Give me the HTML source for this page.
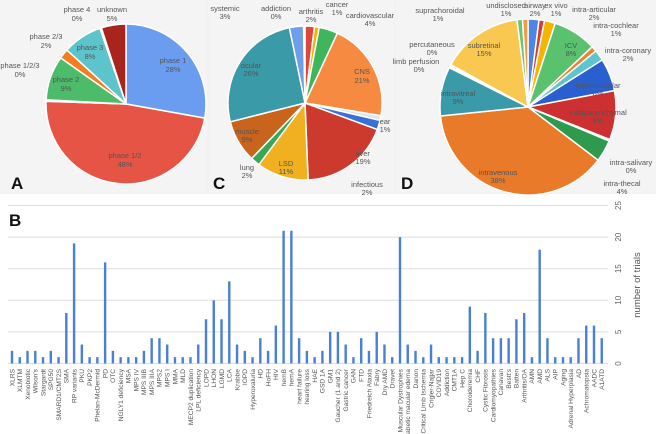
<!DOCTYPE html>
<html><head><meta charset="utf-8"><style>
html,body{margin:0;padding:0;background:#fff;}
body{width:656px;height:434px;overflow:hidden;position:relative;font-family:"Liberation Sans",sans-serif;}
svg{position:absolute;left:0;top:0;}
</style></head><body>
<svg id="s" width="656" height="434" xmlns="http://www.w3.org/2000/svg" font-family="Liberation Sans, sans-serif">
<rect x="0" y="0" width="656" height="194" fill="#f2f2f2"/>
<rect x="0" y="0" width="207" height="194" fill="#f4f4f4"/>
<rect x="209" y="0" width="185" height="194" fill="#f4f4f4"/>
<rect x="396" y="0" width="260" height="194" fill="#f4f4f4"/>
<g id="pies"></g>
<g id="bars"></g>
<g font-size="7.5" fill="#555" text-anchor="middle">
<text x="173" y="63">phase 1</text><text x="173" y="72">28%</text>
<text x="125" y="158">phase 1/2</text><text x="125" y="167">48%</text>
<text x="66" y="82">phase 2</text><text x="66" y="91">9%</text>
<text x="90" y="50">phase 3</text><text x="90" y="59">8%</text>
<text x="46" y="39">phase 2/3</text><text x="46" y="48">2%</text>
<text x="20" y="68">phase 1/2/3</text><text x="20" y="77">0%</text>
<text x="77" y="12">phase 4</text><text x="77" y="21">0%</text>
<text x="112" y="12">unknown</text><text x="112" y="21">5%</text>

<text x="225" y="11">systemic</text><text x="225" y="19">3%</text>
<text x="276" y="11">addiction</text><text x="276" y="19">0%</text>
<text x="311" y="14">arthritis</text><text x="311" y="22">2%</text>
<text x="337" y="7">cancer</text><text x="337" y="15">1%</text>
<text x="370" y="18">cardiovascular</text><text x="370" y="26">4%</text>
<text x="362" y="74">CNS</text><text x="362" y="83">21%</text>
<text x="251" y="68">ocular</text><text x="251" y="76">26%</text>
<text x="247" y="134">muscle</text><text x="247" y="142">9%</text>
<text x="286" y="166">LSD</text><text x="286" y="174">11%</text>
<text x="247" y="170">lung</text><text x="247" y="178">2%</text>
<text x="363" y="156">liver</text><text x="363" y="164">19%</text>
<text x="385" y="124">ear</text><text x="385" y="132">1%</text>
<text x="367" y="187">infectious</text><text x="367" y="195">2%</text>

<text x="440" y="13">suprachoroidal</text><text x="438" y="21">1%</text>
<text x="506" y="8">undisclosed</text><text x="506" y="16">1%</text>
<text x="535" y="8">airway</text><text x="535" y="16">2%</text>
<text x="556" y="8">ex vivo</text><text x="556" y="16">1%</text>
<text x="594" y="12">intra-articular</text><text x="594" y="20">2%</text>
<text x="616" y="28">intra-cochlear</text><text x="616" y="36">1%</text>
<text x="628" y="53">intra-coronary</text><text x="628" y="61">2%</text>
<text x="571" y="48">ICV</text><text x="571" y="56">8%</text>
<text x="484" y="48">subretinal</text><text x="484" y="56">15%</text>
<text x="432" y="47">percutaneous</text><text x="432" y="55">0%</text>
<text x="416" y="64">limb perfusion</text><text x="419" y="72">0%</text>
<text x="458" y="96">intravitreal</text><text x="458" y="104">9%</text>
<text x="598" y="88">intramuscular</text><text x="598" y="96">6%</text>
<text x="598" y="115">intraparenchymal</text><text x="598" y="123">9%</text>
<text x="631" y="165">intra-salivary</text><text x="631" y="173">0%</text>
<text x="622" y="186">intra-thecal</text><text x="622" y="194">4%</text>
<text x="498" y="175">intravenous</text><text x="498" y="183">38%</text>
</g>
<g font-size="17" font-weight="bold" fill="#111">
<text x="11" y="189">A</text><text x="213" y="189">C</text><text x="401" y="189">D</text><text x="9" y="226">B</text>
</g>
</svg>
<script>
var NS="http://www.w3.org/2000/svg";
function el(p,t,a){var e=document.createElementNS(NS,t);for(var k in a)e.setAttribute(k,a[k]);p.appendChild(e);return e;}
var P=document.getElementById("pies");
function pie(cx,cy,r,sl){var tot=0;sl.forEach(function(s){tot+=s[0];});var a=0;
sl.forEach(function(s){if(s[0]<=0)return;var a0=a/tot*2*Math.PI;a+=s[0];var a1=a/tot*2*Math.PI;
var x0=cx+r*Math.sin(a0),y0=cy-r*Math.cos(a0),x1=cx+r*Math.sin(a1),y1=cy-r*Math.cos(a1);
el(P,"path",{d:"M"+cx+","+cy+"L"+x0+","+y0+"A"+r+","+r+" 0 "+((a1-a0)>Math.PI?1:0)+" 1 "+x1+","+y1+"Z",fill:s[1],stroke:"#fff","stroke-width":"1.5"});});}
pie(126,104,80,[[28,"#6a9cf0"],[48,"#e65446"],[0.3,"#ccc"],[9,"#4cbb6a"],[2,"#f57c20"],[8,"#5cc4ca"],[0.3,"#ccc"],[5,"#a8241c"]]);
pie(305,103,77,[[2,"#e0443a"],[1,"#f4b400"],[4,"#3fb65c"],[21,"#f68a40"],[1,"#dde4f0"],[2,"#3a6fd8"],[19,"#cc3a2e"],[11,"#f0b020"],[2,"#38a852"],[9,"#c8641c"],[26,"#3a9aa8"],[3,"#6f9fe8"],[0.3,"#ccc"]]);
pie(528,107,88,[[2,"#4a86e8"],[1,"#d83a3a"],[2,"#f4b400"],[8,"#5ac26e"],[1,"#f08030"],[2,"#5cc6cc"],[6,"#2a5fd0"],[9,"#cc3030"],[0.3,"#f4c040"],[4,"#2e9a4e"],[38,"#e87a2a"],[9,"#3a9aaa"],[0.3,"#ccc"],[0.3,"#ccc"],[15,"#f8c850"],[1,"#6cc478"],[1,"#f49a40"]]);
var B=document.getElementById("bars");
for(var g=0;g<=25;g+=5){var y=363.5-g*6.32;el(B,"line",{x1:8,x2:608,y1:y,y2:y,stroke:"#ddd","stroke-width":"1"});
var t=el(B,"text",{x:0,y:0,transform:"translate(621,"+y+") rotate(-90)","font-size":"8","fill":"#666","text-anchor":"middle"});t.textContent=g;}
var tt=el(B,"text",{transform:"translate(640,285) rotate(-90)","font-size":"9.5","fill":"#555","text-anchor":"middle"});tt.textContent="number of trials";
var d=[["XLRS",2],["XLMTM",1],["Xenobiotic",2],["Wilson's",2],["Stargardt",1],["SPG50",2],["SMARD1/CMT2S",1],["SMA",8],["RP variants",19],["PKU",3],["PKP2",1],["Phelan-McDermid",1],["PD",16],["OTC",2],["NGLY1 deficiency",1],["MSA",1],["MPS IV",1],["MPS IIIB",2],["MPS IIIA",4],["MPS2",4],["MPS I",3],["MMA",1],["MLD",1],["MECP2 duplication",1],["LPL deficiency",3],["LOPD",7],["LHON",10],["LGMD",7],["LCA",13],["Krabbe",3],["IOPD",2],["Hyperoxaluria",1],["HD",4],["HoFH",2],["HIV",6],["hemB",21],["hemA",21],["heart failure",4],["hearing loss",2],["HAE",1],["GSD 1A",2],["GM1",5],["Gaucher (1 and 2)",5],["Gastric cancer",3],["GAN",1],["FTD",4],["Friedreich Ataxia",2],["Fabry",5],["Dry AMD",3],["Dravet",1],["Muscular Dystrophies",20],["Diabetic macular edema",3],["Danon",2],["Critical Limb Ischemia",1],["Crigler-Najjar",3],["COVID19",1],["Addiction",1],["CMT1A",1],["Hep C",1],["Choroideremia",9],["CHF",2],["Cystic Fibrosis",8],["Cardiomyopathies",4],["Canavan",4],["Bestt's",4],["Batten",7],["Arthritis/OA",8],["AMN",1],["AMD",18],["ALS",4],["AIP",1],["Aging",1],["Adrenal Hyperplasia",1],["AD",4],["Achromatopsia",6],["AADC",6],["A1ATD",4]];
d.forEach(function(b,i){var x=12+i*7.76,h=b[1]*6.32;
el(B,"rect",{x:x-1.2,y:363.5-h,width:2.4,height:h,fill:"#4a7fd6"});
var t=el(B,"text",{transform:"translate("+(x+2.3)+",369) rotate(-90)","font-size":"6.6","fill":"#555","text-anchor":"end"});t.textContent=b[0];});
</script>
</body></html>
